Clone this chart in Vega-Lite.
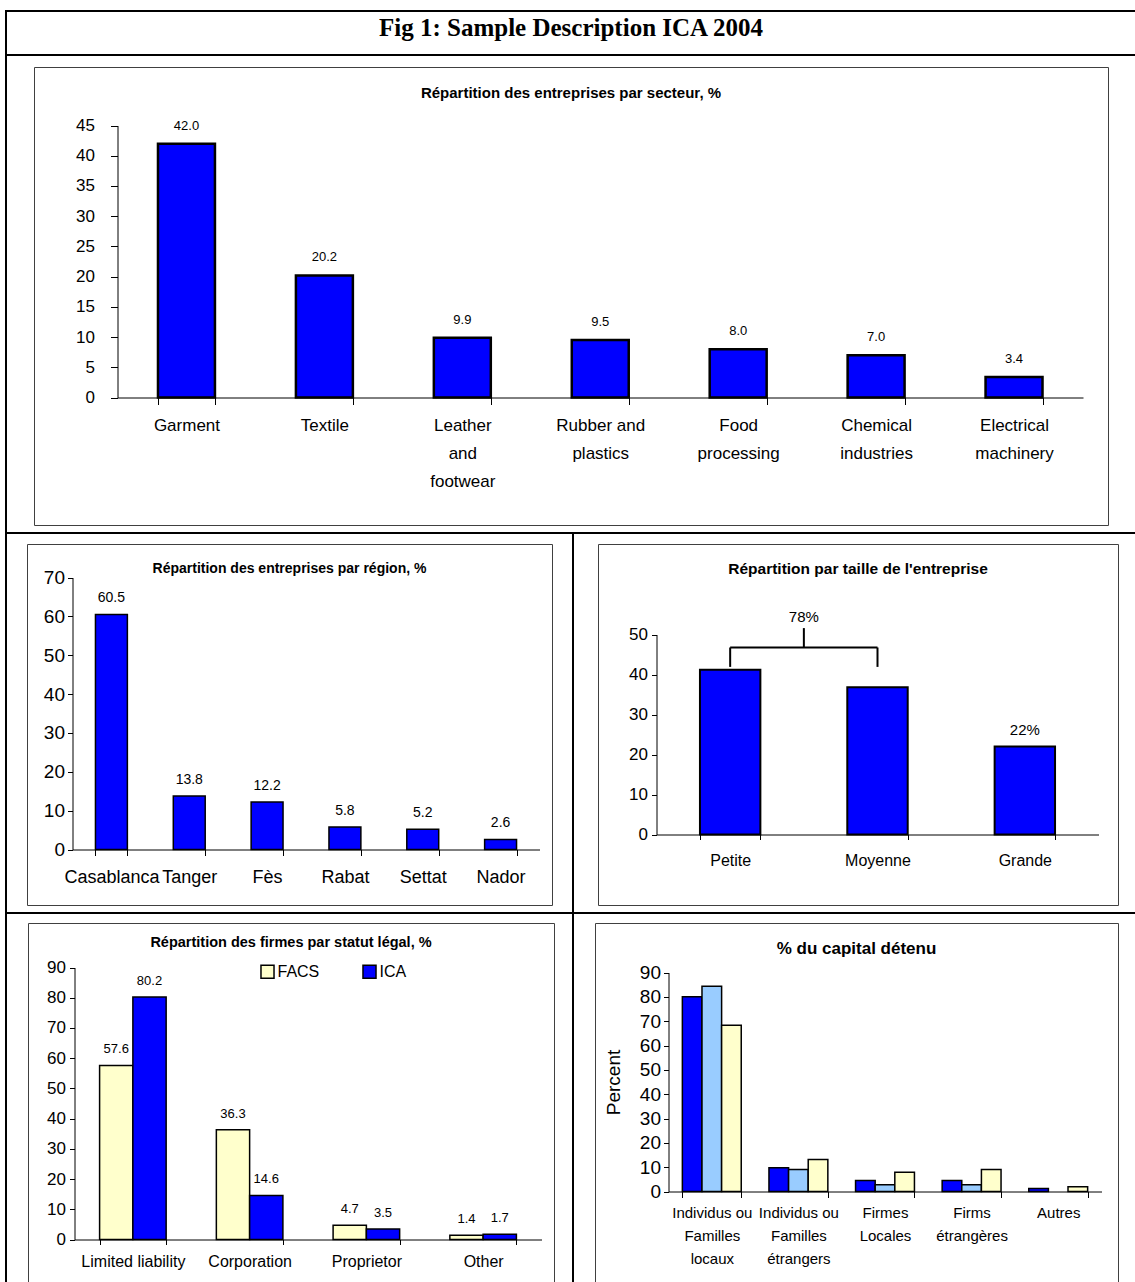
{
  "$schema": "https://vega.github.io/schema/vega-lite/v6.json",
  "padding": {"left": 5, "top": 10, "right": 0, "bottom": 0},
  "background": "#ffffff",
  "config": {
    "view": {"stroke": null},
    "font": "Liberation Sans",
    "axis": {"domainColor": "#000000", "tickColor": "#000000", "labelColor": "#000000", "titleColor": "#000000", "grid": false, "labelFont": "Liberation Sans", "titleFont": "Liberation Sans", "titleFontWeight": "normal", "labelOverlap": false, "domainWidth": 1, "tickWidth": 1},
    "title": {"color": "#000000", "fontWeight": "bold", "anchor": "middle", "frame": "group", "baseline": "middle"},
    "text": {"color": "#000000"},
    "concat": {"spacing": 0}
  },
  "datasets": {
    "secteur": [
      {"secteur": "Garment", "part": 42.0},
      {"secteur": "Textile", "part": 20.2},
      {"secteur": "Leather\nand\nfootwear", "part": 9.9},
      {"secteur": "Rubber and\nplastics", "part": 9.5},
      {"secteur": "Food\nprocessing", "part": 8.0},
      {"secteur": "Chemical\nindustries", "part": 7.0},
      {"secteur": "Electrical\nmachinery", "part": 3.4}
    ],
    "region": [
      {"region": "Casablanca", "part": 60.5},
      {"region": "Tanger", "part": 13.8},
      {"region": "Fès", "part": 12.2},
      {"region": "Rabat", "part": 5.8},
      {"region": "Settat", "part": 5.2},
      {"region": "Nador", "part": 2.6}
    ],
    "taille": [
      {"taille": "Petite", "part": 41.2},
      {"taille": "Moyenne", "part": 36.8},
      {"taille": "Grande", "part": 22.0, "etiquette": "22%"}
    ],
    "accolade": [
      {"de": "Petite", "a": "Moyenne", "etiquette": "78%"}
    ],
    "statut": [
      {"statut": "Limited liability", "enquete": "FACS", "part": 57.6},
      {"statut": "Limited liability", "enquete": "ICA", "part": 80.2},
      {"statut": "Corporation", "enquete": "FACS", "part": 36.3},
      {"statut": "Corporation", "enquete": "ICA", "part": 14.6},
      {"statut": "Proprietor", "enquete": "FACS", "part": 4.7},
      {"statut": "Proprietor", "enquete": "ICA", "part": 3.5},
      {"statut": "Other", "enquete": "FACS", "part": 1.4},
      {"statut": "Other", "enquete": "ICA", "part": 1.7}
    ],
    "capital": [
      {"detenteur": "Individus ou\nFamilles\nlocaux", "serie": "Série A", "part": 80.0},
      {"detenteur": "Individus ou\nFamilles\nlocaux", "serie": "Série B", "part": 84.4},
      {"detenteur": "Individus ou\nFamilles\nlocaux", "serie": "Série C", "part": 68.3},
      {"detenteur": "Individus ou\nFamilles\nétrangers", "serie": "Série A", "part": 9.8},
      {"detenteur": "Individus ou\nFamilles\nétrangers", "serie": "Série B", "part": 9.0},
      {"detenteur": "Individus ou\nFamilles\nétrangers", "serie": "Série C", "part": 13.1},
      {"detenteur": "Firmes\nLocales", "serie": "Série A", "part": 4.5},
      {"detenteur": "Firmes\nLocales", "serie": "Série B", "part": 2.8},
      {"detenteur": "Firmes\nLocales", "serie": "Série C", "part": 7.9},
      {"detenteur": "Firms\nétrangères", "serie": "Série A", "part": 4.5},
      {"detenteur": "Firms\nétrangères", "serie": "Série B", "part": 2.8},
      {"detenteur": "Firms\nétrangères", "serie": "Série C", "part": 9.0},
      {"detenteur": "Autres", "serie": "Série A", "part": 1.2},
      {"detenteur": "Autres", "serie": "Série C", "part": 2.0}
    ]
  },
  "spacing": 0,
  "resolve": {"scale": {"color": "independent", "xOffset": "independent"}, "legend": {"color": "independent"}},
  "vconcat": [
    {"width": 1130, "height": 2, "data": {"values": []}, "mark": "point", "view": {"fill": "#000000"}},
    {"spacing": 0, "hconcat": [
      {"width": 2, "height": 42, "data": {"values": []}, "mark": "point", "view": {"fill": "#000000"}},
      {"width": 1128, "height": 42, "data": {"values": []}, "mark": "point",
       "title": {"text": "Fig 1: Sample Description ICA 2004", "font": "Liberation Serif", "fontSize": 25, "offset": -29}}
    ]},
    {"width": 1130, "height": 2, "data": {"values": []}, "mark": "point", "view": {"fill": "#000000"}},
    {"spacing": 0, "hconcat": [
      {"width": 2, "height": 476, "data": {"values": []}, "mark": "point", "view": {"fill": "#000000"}},
      {"spacing": 0, "vconcat": [
        {"width": 1128, "height": 10, "data": {"values": []}, "mark": "point"},
        {"spacing": 0, "hconcat": [
          {"width": 26, "height": 458, "data": {"values": []}, "mark": "point"},
          {
            "width": 1074, "height": 458,
            "view": {"stroke": "#404040", "strokeWidth": 1},
            "data": {"name": "secteur"},
            "title": {"text": "Répartition des entreprises par secteur, %", "fontSize": 15, "offset": -34},
            "encoding": {
              "x": {"field": "secteur", "type": "nominal", "sort": null,
                "scale": {"range": [83.5, 1049], "paddingInner": 0.587, "paddingOuter": 0.2935},
                "axis": {"title": null, "offset": -127.5, "tickBand": "extent", "tickSize": 7, "labelAngle": 0, "labelPadding": 13, "labelFontSize": 17, "labelLineHeight": 28, "labelExpr": "isValid(datum.value) ? split(datum.value, '\\n') : ''"}},
              "y": {"field": "part", "type": "quantitative",
                "scale": {"domain": [0, 45], "range": [330.5, 58.5], "nice": false},
                "axis": {"title": null, "offset": -83.5, "values": [0, 5, 10, 15, 20, 25, 30, 35, 40, 45], "tickSize": 7, "labelPadding": 16, "labelFontSize": 17}}
            },
            "layer": [
              {"mark": {"type": "bar", "fill": "#0000FF", "stroke": "#000000", "strokeWidth": 2.5}},
              {"mark": {"type": "text", "baseline": "bottom", "dy": -11, "fontSize": 13}, "encoding": {"text": {"field": "part", "type": "quantitative", "format": ".1f"}}}
            ]
          }
        ]}
      ]}
    ]},
    {"width": 1130, "height": 2, "data": {"values": []}, "mark": "point", "view": {"fill": "#000000"}},
    {"spacing": 0, "hconcat": [
      {"width": 2, "height": 378, "data": {"values": []}, "mark": "point", "view": {"fill": "#000000"}},
      {"spacing": 0, "vconcat": [
        {"width": 565, "height": 9, "data": {"values": []}, "mark": "point"},
        {"spacing": 0, "hconcat": [
          {"width": 19, "height": 361, "data": {"values": []}, "mark": "point"},
          {
            "width": 525, "height": 361,
            "view": {"stroke": "#404040", "strokeWidth": 1},
            "data": {"name": "region"},
            "title": {"text": "Répartition des entreprises par région, %", "fontSize": 14, "offset": -31.5},
            "encoding": {
              "x": {"field": "region", "type": "nominal", "sort": null,
                "scale": {"range": [45.5, 512.5], "paddingInner": 0.59, "paddingOuter": 0.295},
                "axis": {"title": null, "offset": -55.5, "tickBand": "extent", "tickSize": 6, "labelAngle": 0, "labelPadding": 13, "labelFontSize": 18}},
              "y": {"field": "part", "type": "quantitative",
                "scale": {"domain": [0, 70], "range": [305.5, 33.5], "nice": false},
                "axis": {"title": null, "offset": -45.5, "values": [0, 10, 20, 30, 40, 50, 60, 70], "tickSize": 5, "labelPadding": 3, "labelFontSize": 19}}
            },
            "layer": [
              {"mark": {"type": "bar", "fill": "#0000FF", "stroke": "#000000", "strokeWidth": 1.5}},
              {"mark": {"type": "text", "baseline": "bottom", "dy": -9, "fontSize": 14}, "encoding": {"text": {"field": "part", "type": "quantitative", "format": ".1f"}}}
            ]
          }
        ]}
      ]},
      {"width": 2, "height": 378, "data": {"values": []}, "mark": "point", "view": {"fill": "#000000"}},
      {"spacing": 0, "vconcat": [
        {"width": 561, "height": 9, "data": {"values": []}, "mark": "point"},
        {"spacing": 0, "hconcat": [
          {"width": 23, "height": 361, "data": {"values": []}, "mark": "point"},
          {
            "width": 520, "height": 361,
            "view": {"stroke": "#404040", "strokeWidth": 1},
            "title": {"text": "Répartition par taille de l'entreprise", "fontSize": 15.5, "offset": -33.75},
            "layer": [
              {"data": {"name": "taille"},
               "mark": {"type": "bar", "fill": "#0000FF", "stroke": "#000000", "strokeWidth": 2},
               "encoding": {
                 "x": {"field": "taille", "type": "nominal",
                   "scale": {"domain": ["Petite", "Moyenne", "Grande"], "range": [58.5, 500.5], "paddingInner": 0.59, "paddingOuter": 0.295},
                   "axis": {"title": null, "offset": -70.5, "tickBand": "extent", "tickSize": 5, "labelAngle": 0, "labelPadding": 13, "labelFontSize": 16}},
                 "y": {"field": "part", "type": "quantitative",
                   "scale": {"domain": [0, 50], "range": [290.5, 90.5], "nice": false},
                   "axis": {"title": null, "offset": -58.5, "values": [0, 10, 20, 30, 40, 50], "tickSize": 5, "labelPadding": 4, "labelFontSize": 17}}
               }},
              {"data": {"name": "taille"},
               "transform": [{"filter": "datum.etiquette != null"}],
               "mark": {"type": "text", "baseline": "bottom", "dy": -9, "fontSize": 15},
               "encoding": {
                 "x": {"field": "taille", "type": "nominal"},
                 "y": {"field": "part", "type": "quantitative"},
                 "text": {"field": "etiquette", "type": "nominal"}
               }},
              {"data": {"name": "accolade"},
               "mark": {"type": "rule", "strokeWidth": 2, "color": "#000000"},
               "encoding": {"x": {"field": "de", "type": "nominal", "bandPosition": 0.5}, "y": {"datum": 41.9}, "y2": {"datum": 46.75}}},
              {"data": {"name": "accolade"},
               "mark": {"type": "rule", "strokeWidth": 2, "color": "#000000"},
               "encoding": {"x": {"field": "a", "type": "nominal", "bandPosition": 0.5}, "y": {"datum": 41.9}, "y2": {"datum": 46.75}}},
              {"data": {"name": "accolade"},
               "mark": {"type": "rule", "strokeWidth": 2, "color": "#000000"},
               "encoding": {"x": {"field": "de", "type": "nominal", "bandPosition": 0.5}, "x2": {"field": "a", "bandPosition": 0.5}, "y": {"datum": 46.75}}},
              {"data": {"name": "accolade"},
               "mark": {"type": "rule", "strokeWidth": 2, "color": "#000000"},
               "encoding": {"x": {"field": "de", "type": "nominal", "bandPosition": 1.72}, "y": {"datum": 46.75}, "y2": {"datum": 51.6}}},
              {"data": {"name": "accolade"},
               "mark": {"type": "text", "baseline": "bottom", "dy": -3, "fontSize": 15},
               "encoding": {"x": {"field": "de", "type": "nominal", "bandPosition": 1.72}, "y": {"datum": 51.6}, "text": {"field": "etiquette", "type": "nominal"}}}
            ]
          }
        ]}
      ]}
    ]},
    {"width": 1130, "height": 2, "data": {"values": []}, "mark": "point", "view": {"fill": "#000000"}},
    {"spacing": 0,
     "resolve": {"scale": {"color": "independent", "xOffset": "independent"}, "legend": {"color": "independent"}},
     "hconcat": [
      {"width": 2, "height": 368, "data": {"values": []}, "mark": "point", "view": {"fill": "#000000"}},
      {"spacing": 0,
       "resolve": {"scale": {"color": "independent", "xOffset": "independent"}, "legend": {"color": "independent"}},
       "vconcat": [
        {"width": 565, "height": 8, "data": {"values": []}, "mark": "point"},
        {"spacing": 0,
         "resolve": {"scale": {"color": "independent", "xOffset": "independent"}, "legend": {"color": "independent"}},
         "hconcat": [
          {"width": 20, "height": 359, "data": {"values": []}, "mark": "point"},
          {
            "width": 526, "height": 359,
            "view": {"stroke": "#404040", "strokeWidth": 1},
            "data": {"name": "statut"},
            "title": {"text": "Répartition des firmes par statut légal, %", "fontSize": 14.5, "offset": -27.75},
            "encoding": {
              "x": {"field": "statut", "type": "nominal", "sort": null,
                "scale": {"range": [46.5, 513.5], "paddingInner": 0.43, "paddingOuter": 0.215},
                "axis": {"title": null, "offset": -42.5, "tickBand": "extent", "tickSize": 5, "labelAngle": 0, "labelPadding": 9, "labelFontSize": 16}},
              "xOffset": {"field": "enquete", "type": "nominal", "scale": {"paddingInner": 0, "paddingOuter": 0}},
              "y": {"field": "part", "type": "quantitative",
                "scale": {"domain": [0, 90], "range": [316.5, 44.5], "nice": false},
                "axis": {"title": null, "offset": -46.5, "values": [0, 10, 20, 30, 40, 50, 60, 70, 80, 90], "tickSize": 5, "labelPadding": 4, "labelFontSize": 17}}
            },
            "layer": [
              {"mark": {"type": "bar", "stroke": "#000000", "strokeWidth": 1.5},
               "encoding": {"color": {"field": "enquete", "type": "nominal",
                 "scale": {"domain": ["FACS", "ICA"], "range": ["#FFFFCC", "#0000FF"]},
                 "legend": {"orient": "none", "legendX": 231.5, "legendY": 40.5, "direction": "horizontal", "title": null, "symbolType": "square", "symbolSize": 170, "symbolStrokeColor": "#000000", "symbolStrokeWidth": 1.5, "symbolOpacity": 1, "labelFontSize": 16, "labelColor": "#000000", "columnPadding": 40, "labelOffset": 2}}}},
              {"mark": {"type": "text", "baseline": "bottom", "dy": -9, "fontSize": 13}, "encoding": {"text": {"field": "part", "type": "quantitative", "format": ".1f"}}}
            ]
          }
        ]}
      ]},
      {"width": 2, "height": 368, "data": {"values": []}, "mark": "point", "view": {"fill": "#000000"}},
      {"spacing": 0,
       "resolve": {"scale": {"color": "independent", "xOffset": "independent"}, "legend": {"color": "independent"}},
       "vconcat": [
        {"width": 561, "height": 8, "data": {"values": []}, "mark": "point"},
        {"spacing": 0,
         "resolve": {"scale": {"color": "independent", "xOffset": "independent"}, "legend": {"color": "independent"}},
         "hconcat": [
          {"width": 20, "height": 359, "data": {"values": []}, "mark": "point"},
          {
            "width": 523, "height": 359,
            "view": {"stroke": "#404040", "strokeWidth": 1},
            "data": {"name": "capital"},
            "title": {"text": "% du capital détenu", "fontSize": 17, "offset": -35},
            "mark": {"type": "bar", "stroke": "#000000", "strokeWidth": 1.5},
            "encoding": {
              "x": {"field": "detenteur", "type": "nominal", "sort": null,
                "scale": {"range": [73.5, 506.5], "paddingInner": 0.32, "paddingOuter": 0.16},
                "axis": {"title": null, "offset": -90.5, "tickBand": "extent", "tickSize": 6, "labelAngle": 0, "labelPadding": 8, "labelFontSize": 15, "labelLineHeight": 23, "labelExpr": "isValid(datum.value) ? split(datum.value, '\\n') : ''"}},
              "xOffset": {"field": "serie", "type": "nominal", "scale": {"paddingInner": 0, "paddingOuter": 0}},
              "y": {"field": "part", "type": "quantitative",
                "scale": {"domain": [0, 90], "range": [268.5, 49.5], "nice": false},
                "axis": {"title": "Percent", "titleFontSize": 19, "titlePadding": 16, "offset": -73.5, "values": [0, 10, 20, 30, 40, 50, 60, 70, 80, 90], "tickSize": 5, "labelPadding": 3, "labelFontSize": 19}},
              "color": {"field": "serie", "type": "nominal",
                "scale": {"domain": ["Série A", "Série B", "Série C"], "range": ["#0000FF", "#99CCFF", "#FFFFCC"]},
                "legend": null}
            }
          }
        ]}
      ]}
    ]}
  ]
}
